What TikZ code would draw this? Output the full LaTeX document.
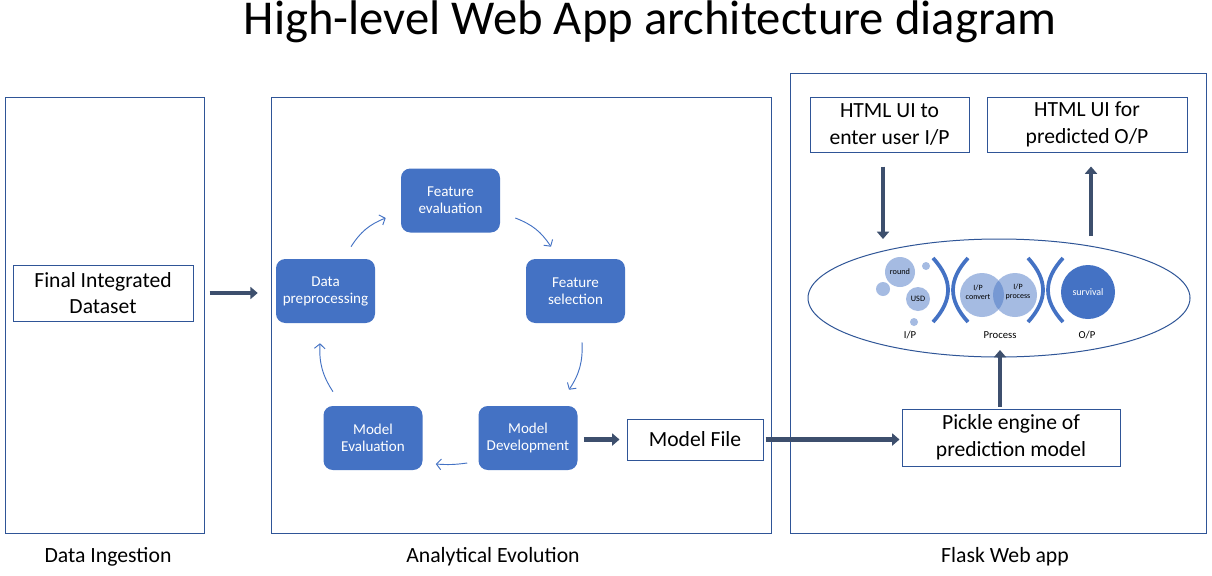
\documentclass[tikz,border=0pt]{standalone}
\usepackage{fontspec}
\setmainfont{Carlito}
\usetikzlibrary{arrows.meta,shapes.geometric}
\definecolor{frame}{HTML}{2F5597}
\definecolor{accent}{HTML}{4472C4}
\definecolor{slate}{HTML}{3D4F6D}
\begin{document}
\begin{tikzpicture}[x=0.75pt,y=-0.75pt,
  container/.style={draw=frame,line width=0.75pt,inner sep=0pt},
  textbox/.style={draw=frame,line width=0.75pt,fill=white,align=center,font=\fontsize{16.2pt}{20pt}\selectfont,inner sep=0pt},
  stage/.style={fill=accent,rounded corners=7pt,text=white,align=center,font=\fontsize{11.3pt}{12.8pt}\selectfont,inner sep=0pt,minimum width=74.25pt,minimum height=48pt},
  bigarrow/.style={draw=slate,line width=3.5pt,-{Triangle[length=5.5pt,width=9pt]}},
  cyc/.style={draw=accent,line width=0.7pt,-{Straight Barb[length=3.5pt,width=8pt]}},
  bubble/.style={circle,fill=accent,fill opacity=0.48,text opacity=1,inner sep=0pt,align=center,font=\fontsize{6.2pt}{6.5pt}\selectfont},
  tinytext/.style={font=\fontsize{6pt}{6.5pt}\selectfont,align=center},
  bracket/.style={draw=accent,line width=2.8pt},
  caption/.style={font=\fontsize{16.3pt}{18pt}\selectfont},
  enginelabel/.style={font=\fontsize{8pt}{9pt}\selectfont}
]
\useasboundingbox (0,0) rectangle (1212,575);
\fill[white] (0,0) rectangle (1212,575);

% title
\node[font=\fontsize{36.5pt}{40pt}\selectfont] (title) at (650,22) {High-level Web App architecture diagram};

% three panels
\node[container,minimum width=149.25pt,minimum height=327pt] (ingest) at (104.5,315) {};
\node[container,minimum width=375pt,minimum height=327pt] (analytic) at (521,315) {};
\node[container,minimum width=312pt,minimum height=345pt] (flask) at (998,303) {};

\node[caption] (capA) at (108,557) {Data Ingestion};
\node[caption] (capB) at (493,557) {Analytical Evolution};
\node[caption] (capC) at (1005,557) {Flask Web app};

% data ingestion
\node[textbox,minimum width=135pt,minimum height=42pt] (dataset) at (103,293) {Final Integrated\\Dataset};

% analytical cycle
\node[stage] (fe) at (450.5,200.5) {Feature\\evaluation};
\node[stage] (pre) at (325.5,291) {Data\\preprocessing};
\node[stage] (fs) at (575.5,291) {Feature\\selection};
\node[stage] (me) at (373,438) {Model\\Evaluation};
\node[stage] (md) at (528,438) {Model\\Development};

\draw[cyc] ([shift={(25.5,-12)}]pre.north) to[bend left=18] ([shift={(-15,17.5)}]fe.west);
\draw[cyc] ([shift={(15,17.5)}]fe.east) to[bend left=18] ([shift={(-24.5,-12)}]fs.north);
\draw[cyc] ([shift={(6.5,19)}]fs.south) to[bend left=18] ([shift={(41,-16)}]md.north);
\draw[cyc] ([shift={(-11,25)}]md.west) to[bend left=6] ([shift={(13,26)}]me.east);
\draw[cyc] ([shift={(-40,-14)}]me.north) to[bend left=18] ([shift={(-5.5,20)}]pre.south);

\draw[bigarrow,shorten <=12pt,shorten >=13.5pt] (dataset.east) -- (dataset.east -| pre.west);

% model file
\node[textbox,minimum width=102pt,minimum height=30.75pt] (mfile) at (695,439.5) {Model File};
\draw[bigarrow,shorten <=4.5pt,shorten >=5.25pt] (md.east |- mfile.west) -- (mfile.west);

% flask app
\node[textbox,minimum width=119.25pt,minimum height=41.25pt] (uiin) at (889.5,124.5) {HTML UI to\\enter user I/P};
\node[textbox,minimum width=150pt,minimum height=41.25pt] (uiout) at (1087,124.5) {HTML UI for\\predicted O/P};
\node[textbox,minimum width=163.5pt,minimum height=42.75pt] (pickle) at (1011,437.5) {Pickle engine of\\prediction model};

\draw[bigarrow,shorten <=1.5pt,shorten >=1.5pt] (mfile.east) -- (mfile.east -| pickle.west);

\node[draw=frame,line width=0.75pt,ellipse,minimum width=286.5pt,minimum height=88.5pt,inner sep=0pt] (engine) at (999,298) {};

\coordinate (inTip) at (883,239);
\coordinate (outTail) at (1091,236);
\coordinate (procTip) at (1000,350);
\draw[bigarrow,line width=3pt,shorten <=10.5pt] (uiin.south -| inTip) -- (inTip);
\draw[bigarrow,line width=3pt,shorten >=10.5pt] (outTail) -- (uiout.south -| outTail);
\draw[bigarrow,line width=3pt,shorten <=1.5pt] (pickle.north -| procTip) -- (procTip);

% inside the engine: input bubbles
\node[bubble,minimum size=22.5pt] (round) at (900,272) {round};
\node[bubble,minimum size=6pt] (dotA) at (926,266) {};
\node[bubble,minimum size=10.5pt] (dotB) at (883,289) {};
\node[bubble,minimum size=18pt] (usd) at (918,299) {USD};
\node[bubble,minimum size=6pt] (dotC) at (914,322) {};

% process bubbles
\node[bubble,minimum size=33pt] (conv) at (982,295) {};
\node[bubble,minimum size=33pt] (proc) at (1015,295) {};
\node[tinytext] (convT) at (978,292) {I/P\\convert};
\node[tinytext] (procT) at (1018,292) {I/P\\process};

% output bubble
\node[circle,fill=accent,minimum size=40.5pt,inner sep=0pt,text=white,font=\fontsize{7.5pt}{8pt}\selectfont] (surv) at (1088,292) {survival};

% separating brackets
\draw[bracket] (933,258) .. controls (953,280) and (953,300) .. (933,322);
\draw[bracket] (968,258) .. controls (948,280) and (948,300) .. (968,322);
\draw[bracket] (1028,258) .. controls (1048,280) and (1048,300) .. (1028,322);
\draw[bracket] (1063,258) .. controls (1043,280) and (1043,300) .. (1063,322);

\node[enginelabel] (lblIn) at (910,335) {I/P};
\node[enginelabel] (lblProc) at (1000,335) {Process};
\node[enginelabel] (lblOut) at (1087,335) {O/P};
\end{tikzpicture}
\end{document}
